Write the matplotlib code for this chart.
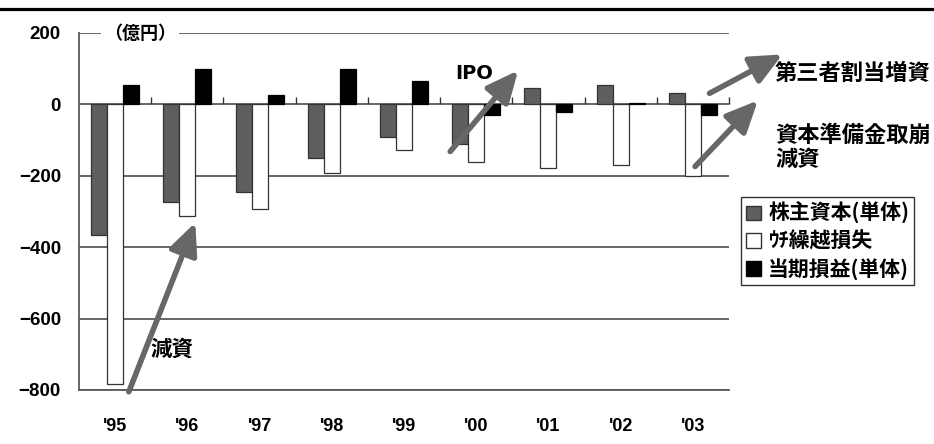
import matplotlib
matplotlib.use("Agg")
import matplotlib.pyplot as plt
import numpy as np
from matplotlib.lines import Line2D
from matplotlib.patches import Patch

plt.rcParams['font.family'] = ['Liberation Sans', 'Noto Sans CJK JP', 'DejaVu Sans']
plt.rcParams['font.weight'] = 'bold'

years = ["'95", "'96", "'97", "'98", "'99", "'00", "'01", "'02", "'03"]
kabunushi = [-367, -272, -246, -151, -90, -112, 45, 53, 31]       # 株主資本(単体)
kurikoshi = [-783, -314, -292, -193, -129, -160, -179, -171, -200]  # ｳﾁ繰越損失
touki = [55, 98, 25, 98, 65, -31, -20, 3, -31]                    # 当期損益(単体)
labels = ['株主資本(単体)', 'ｳﾁ繰越損失', '当期損益(単体)']
yticks = [200, 0, -200, -400, -600, -800]

line_c = '#5a5a5a'
arrow_c = '#676767'
jp = ['Noto Sans CJK JP', 'DejaVu Sans']

fig = plt.figure(figsize=(9.34, 4.44), dpi=100)
ax = fig.add_axes([79 / 934, 1 - 390 / 444, 650 / 934, 357 / 444])

x = np.arange(len(years))
w = 0.222
ax.bar(x - w, kabunushi, w, color='#5e5e5e', edgecolor='#333333', lw=0.9, zorder=3)
ax.bar(x, kurikoshi, w, color='white', edgecolor='#333333', lw=0.9, zorder=3)
ax.bar(x + w, touki, w, color='black', edgecolor='black', lw=0.9, zorder=3)

ax.set_xlim(-0.5, len(years) - 0.5)
ax.set_ylim(-800, 200)
ax.set_yticks(yticks)
ax.set_yticklabels([str(v).replace('-', '\u2212') for v in yticks], fontsize=13.5)
ax.set_xticks(x)
ax.set_xticklabels(years, fontsize=13)
ax.tick_params(axis='y', length=0, pad=13)
ax.tick_params(axis='x', length=0, pad=20)

for v in yticks:
    ax.axhline(v, color=line_c, lw=1.3, zorder=1)
# category separators standing on the zero line
ax.vlines(np.arange(1, len(years) + 1) - 0.5, 0, 20, color='#333333', lw=1.0, zorder=4, clip_on=False)

for s in ['top', 'right']:
    ax.spines[s].set_visible(False)
for s in ['left', 'bottom']:
    ax.spines[s].set_color(line_c)
    ax.spines[s].set_linewidth(1.3)

ax.text(0.345, 200, '（億円）', family=jp, fontsize=13, ha='center', va='center',
        bbox=dict(facecolor='white', edgecolor='none', pad=2), zorder=5)

# arrows and notes
def arrow(x0, y0, x1, y1):
    ax.annotate('', xy=(x1, y1), xytext=(x0, y0), annotation_clip=False,
                arrowprops=dict(arrowstyle='-|>,head_length=1.2,head_width=0.55',
                                mutation_scale=16, lw=4, color=arrow_c,
                                shrinkA=0, shrinkB=0), zorder=6)

arrow(0.19, -805, 1.11, -331)
arrow(4.64, -132, 5.58, 95)
arrow(8.23, 31, 9.24, 140)
arrow(8.03, -174, 8.90, 11)

ax.text(0.78, -685, '減資', family=jp, fontsize=15.5, ha='center', va='center', zorder=6)
ax.text(4.97, 87, 'IPO', family=['DejaVu Sans'], fontsize=14, ha='center', va='center', zorder=6)
fig.text(775 / 934, 1 - 73 / 444, '第三者割当増資', family=jp, fontsize=16, ha='left', va='center')
fig.text(775 / 934, 1 - 135 / 444, '資本準備金取崩', family=jp, fontsize=16, ha='left', va='center')
fig.text(775 / 934, 1 - 159 / 444, '減資', family=jp, fontsize=16, ha='left', va='center')

handles = [Patch(facecolor='#5e5e5e', edgecolor='#333333'),
           Patch(facecolor='white', edgecolor='#333333'),
           Patch(facecolor='black', edgecolor='black')]
leg = fig.legend(handles, labels, loc='upper left', bbox_to_anchor=(741 / 934, 1 - 197 / 444),
                 prop=dict(family=jp, size=15, weight='bold'), frameon=True, fancybox=False,
                 edgecolor='black', handlelength=0.7, handleheight=0.7, handletextpad=0.35,
                 labelspacing=0.3, borderpad=0.25, borderaxespad=0)
leg.get_frame().set_linewidth(1.0)

# heavy rule across the top
fig.add_artist(Line2D([0, 1], [1 - 9 / 444, 1 - 9 / 444], color='black', lw=2.3))

fig.savefig('out.png', dpi=100)
